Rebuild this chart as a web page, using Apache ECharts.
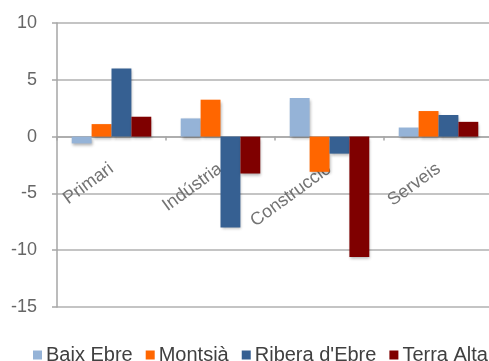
<!DOCTYPE html>
<html><head><meta charset="utf-8">
<script src="https://cdn.jsdelivr.net/npm/echarts@6/dist/echarts.min.js"></script>
<style>html,body{margin:0;padding:0;background:#fff}#c{width:489px;height:361px}</style>
</head><body><div id="c"></div>
<script>
const categories = ['Primari', 'Indústria', 'Construcció', 'Serveis'];
const baixEbre = [-0.6, 1.6, 3.4, 0.8];
const montsia = [1.1, 3.25, -3.1, 2.25];
const riberaEbre = [6.0, -8.0, -1.5, 1.9];
const terraAlta = [1.75, -3.25, -10.6, 1.3];
const yTicks = { min: -15, max: 10, interval: 5 };

const seriesDefs = [
  { name: 'Baix Ebre', data: baixEbre, color: '#95b3d7' },
  { name: 'Montsià', data: montsia, color: '#ff6600' },
  { name: "Ribera d'Ebre", data: riberaEbre, color: '#366092' },
  { name: 'Terra Alta', data: terraAlta, color: '#7f0000' }
];
const font = 'Liberation Sans, Arial, Helvetica, sans-serif';
const chart = echarts.init(document.getElementById('c'));
chart.setOption({
  animation: false,
  grid: { left: 57, right: -4, top: 23, bottom: 54, containLabel: false, outerBoundsMode: 'none' },
  legend: {
    left: 28, top: 340, width: 475, padding: 5, icon: 'rect', itemWidth: 9, itemHeight: 9, itemGap: 13,
    textStyle: { fontFamily: font, fontSize: 20, color: '#404040', padding: [0, 0, 0, -1] },
    data: seriesDefs.map(s => s.name)
  },
  xAxis: {
    type: 'category', data: categories,
    axisLine: { onZero: true, lineStyle: { color: '#a6a6a6', width: 1.5 } },
    axisTick: { show: true, length: 4, alignWithLabel: false, lineStyle: { color: '#a6a6a6', width: 1.5 } },
    axisLabel: { rotate: 36, margin: -140, fontFamily: font, fontSize: 18, color: '#737373', interval: 0 },
    splitLine: { show: false }
  },
  yAxis: {
    type: 'value', min: yTicks.min, max: yTicks.max, interval: yTicks.interval,
    axisLine: { show: true, lineStyle: { color: '#a6a6a6', width: 1.5 } },
    axisTick: { show: true, length: 5, lineStyle: { color: '#a6a6a6', width: 1.5 } },
    axisLabel: { margin: 20, fontFamily: font, fontSize: 18, color: '#666666' },
    splitLine: { show: true, lineStyle: { color: '#c4c4c4', width: 2 } }
  },
  series: seriesDefs.map(s => ({
    name: s.name, type: 'bar', data: s.data, barGap: '0%', barCategoryGap: '27%',
    itemStyle: { color: s.color, shadowBlur: 3, shadowOffsetY: 2, shadowOffsetX: 1, shadowColor: 'rgba(0,0,0,0.3)' }
  }))
});
</script></body></html>
